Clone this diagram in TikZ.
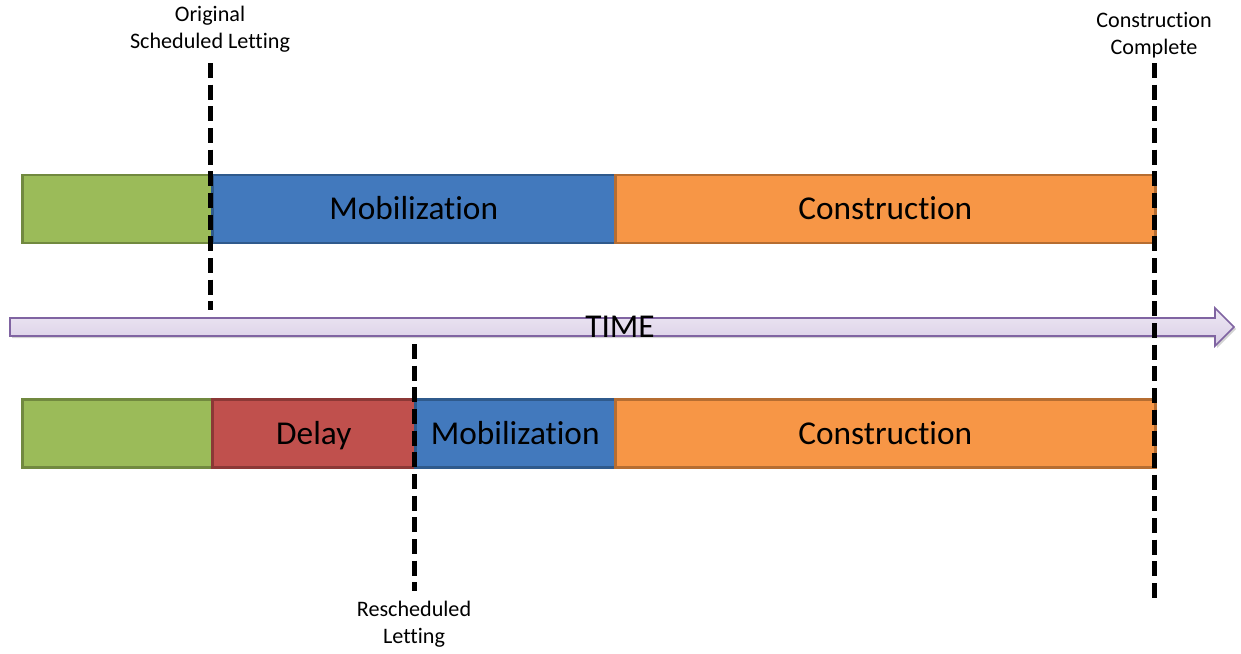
\documentclass[tikz,border=0pt]{standalone}
\usepackage{fontspec}
\setmainfont{Carlito}[Ligatures={NoCommon,NoRequired,NoContextual}, RawFeature={-liga;-dlig;-clig}]
\usetikzlibrary{shadows}
\definecolor{gfill}{HTML}{9BBB59}\definecolor{gline}{HTML}{71893F}
\definecolor{bfill}{HTML}{4279BD}\definecolor{bline}{HTML}{2F5A8C}
\definecolor{rfill}{HTML}{C0504D}\definecolor{rline}{HTML}{8C3836}
\definecolor{ofill}{HTML}{F79646}\definecolor{oline}{HTML}{B66D31}
\definecolor{pline}{HTML}{8064A2}\definecolor{ptop}{HTML}{EEE9F4}\definecolor{pbot}{HTML}{D9CDE6}
\tikzset{
  bar/.style={rectangle, line width=1.9pt, minimum height=51pt, inner sep=0pt, anchor=west, text height=20pt, text depth=4pt, font=\fontsize{25}{29}\selectfont},
  gbar/.style={bar, draw=gline, fill=gfill},
  bbar/.style={bar, draw=bline, fill=bfill},
  rbar/.style={bar, draw=rline, fill=rfill},
  obar/.style={bar, draw=oline, fill=ofill},
  mark line/.style={line width=3.75pt, dash pattern=on 11.25pt off 5pt, black},
  lbl/.style={align=center, font=\fontsize{16.6}{20.25}\selectfont, inner sep=0pt}
}
\begin{document}
\begin{tikzpicture}[x=0.75pt, y=-0.75pt]
\useasboundingbox (0,0) rectangle (1241,653);
% time arrow
\path[draw=pline, line width=1.2pt, top color=ptop, bottom color=pbot, drop shadow={shadow xshift=1.5pt, shadow yshift=-1.5pt, opacity=0.35}]
  (10,318) -- (1215,318) -- (1215,308) -- (1234,327) -- (1215,346) -- (1215,336) -- (10,336) -- cycle;
\node[font=\fontsize{25}{29}\selectfont, inner sep=0pt] (time) at (620,327) {TIME};
% top bars
\node[gbar, minimum width=142.5pt] (g1) at (21,209) {};
\node[bbar, minimum width=302.25pt] (b1) at (211,209) {Mobilization};
\node[obar, minimum width=405pt] (o1) at (614,209) {Construction};
% bottom bars
\node[gbar, minimum width=142.5pt] (g2) at (21,433.5) {};
\node[rbar, minimum width=152.25pt] (r2) at (211,433.5) {Delay};
\node[bbar, minimum width=150pt] (b2) at (414,433.5) {Mobilization};
\node[obar, minimum width=405pt] (o2) at (614,433.5) {Construction};
% marker lines
\coordinate (a1) at (210,63); \coordinate (a2) at (210,310);
\coordinate (c1) at (414,344); \coordinate (c2) at (414,591);
\coordinate (e1) at (1154,63); \coordinate (e2) at (1154,604);
\draw[mark line] (a1) -- (a2);
\draw[mark line] (c1) -- (c2);
\draw[mark line] (e1) -- (e2);
% labels
\node[lbl] (orig) at (210,29) {Original\\Scheduled Letting};
\node[lbl] (comp) at (1154,35) {Construction\\Complete};
\node[lbl] (resch) at (414,624) {Rescheduled\\Letting};
\end{tikzpicture}
\end{document}
